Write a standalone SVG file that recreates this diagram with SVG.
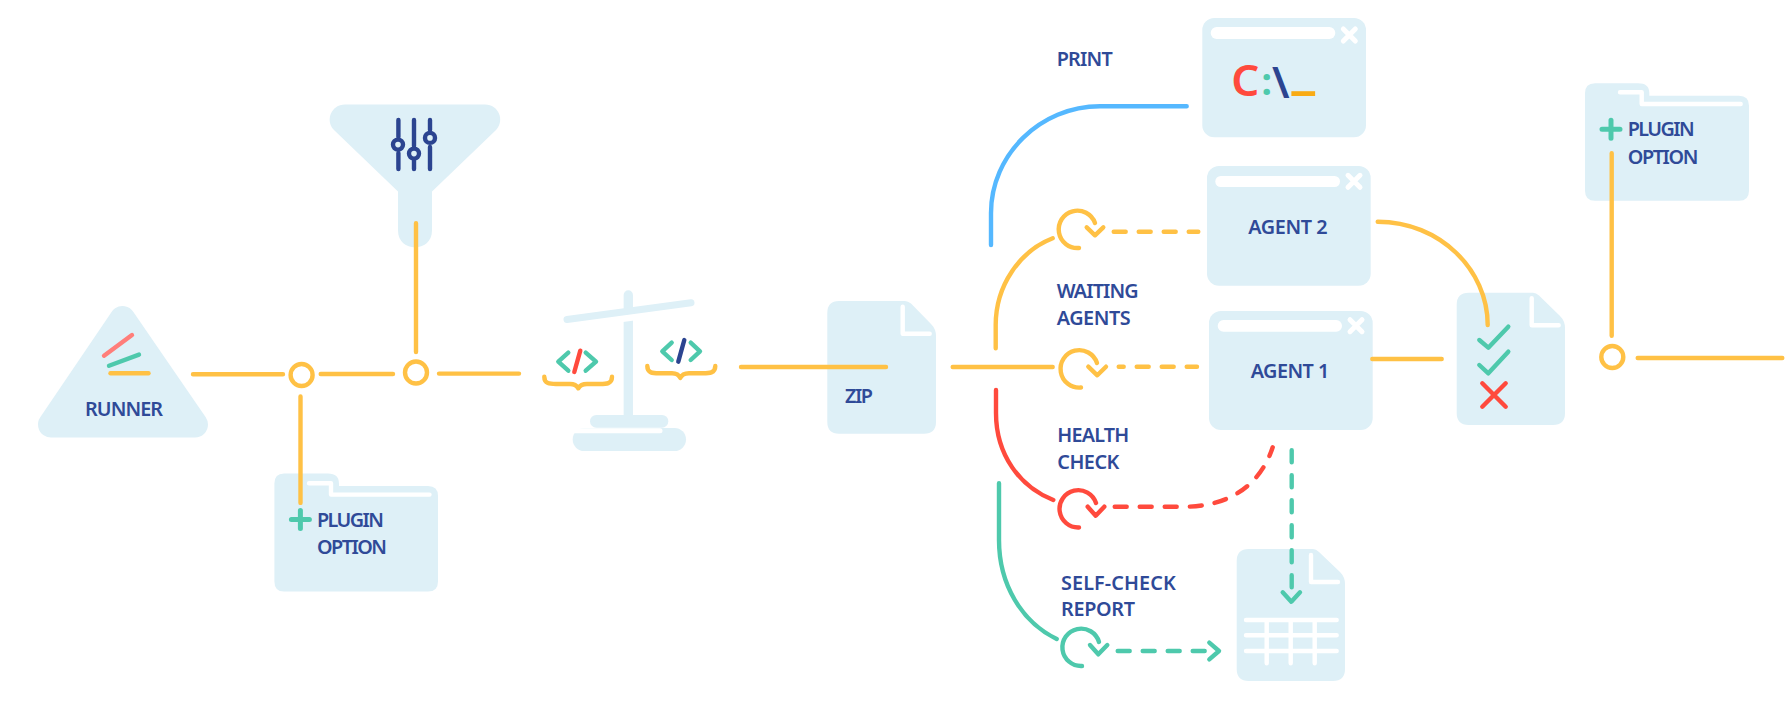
<svg xmlns="http://www.w3.org/2000/svg" width="1790" height="706" viewBox="0 0 1790 706">
<style>
text{font-family:"Noto Sans","Open Sans",sans-serif;font-weight:600;font-size:19.8px;fill:#2F4A98}
.bg{fill:#DEF0F7}
.l{fill:none;stroke-width:4.400;stroke-linecap:round;stroke-linejoin:round}
.y{stroke:#FFC145}.t{stroke:#4EC9AC}.r{stroke:#FF4A3D}.b{stroke:#55B8FF}.n{stroke:#2B4490}.w{stroke:#fff}.lb{stroke:#DEF0F7}
.d{stroke-dasharray:12 13}
.bar{fill:#fff}
</style>
<defs>
<g id="x"><path class="l w" style="stroke-width:5" d="M-6,-6L6,6M6,-6L-6,6"/></g>
<path id="fold" class="l w" d="M0,0V27H27"/>
</defs>
<rect width="1790" height="706" fill="#fff"/>
<g id="runner">
<path class="bg lb" style="stroke-width:26;stroke-linejoin:round" d="M122.5,319L51,424.500H195Z"/>
<path class="l" stroke="#FF7E7A" d="M104,355.700L132,335"/>
<path class="l t" d="M109,365.700L139,354.600"/>
<path class="l y" d="M110.500,373.200H148.500"/>
<text x="85" y="416.300" textLength="78">RUNNER</text>
</g>
<g id="funnel">
<path class="bg" d="M345,104.600H485C499,104.600 505,121 496,130L432,191.400V230.500C432,253 398,253 398,230.500V191.400L334,130C325,121 331,104.600 345,104.600Z"/>
<path class="l n" d="M398.400,120V137M398.400,153V169M414,120V146M414,161V169M430,120V130M430,147V169"/>
<circle class="l n" style="fill:#DEF0F7" cx="398" cy="144.600" r="5"/>
<circle class="l n" style="fill:#DEF0F7" cx="414" cy="153.600" r="5"/>
<circle class="l n" style="fill:#DEF0F7" cx="430" cy="137.900" r="5"/>
</g>
<g id="plugin-option-1">
<path class="bg" d="M284,473.600H328Q339,473.600 339,484V486H428Q438,486 438,496V581.400Q438,591.400 428,591.400H284Q274.400,591.400 274.400,581.400V483.600Q274.400,473.600 284,473.600Z"/>
<path class="l w" d="M309,483.200H331V494.600H429.500"/>
<path class="l t" style="stroke-width:5" d="M300.400,510.600V528.600M291.400,519.600H309.400"/>
<text x="317" y="526.800" textLength="67">PLUGIN</text>
<text x="317" y="554" textLength="70">OPTION</text>
</g>
<g id="scale">
<path class="l lb" style="stroke-width:9.300" d="M628.300,295V418"/>
<path class="l w" style="stroke-width:7" d="M566,326L694,309"/>
<path class="l lb" style="stroke-width:7" d="M567,319.500L691,302.700"/>
<rect class="bg" x="590" y="415" width="78.300" height="12.700" rx="6.300"/>
<rect class="bg" x="572.700" y="428" width="113.300" height="23" rx="11.500"/>
<path class="l w" style="stroke-width:5" d="M560,430.700H660"/>
<path class="l t" d="M568.300,352.700L558.300,361.700L568.300,370.700M585.700,352.700L596,361.700L585.700,370.700"/>
<path class="l r" d="M580.300,350.700L574.300,372"/>
<path class="l y" d="M544.300,376.700C544.300,384 550,384 556,384H570C575,384 577,386 578.300,388.300C579.600,386 582,384 587,384H600C606,384 612,384 612,376.700"/>
<path class="l t" d="M671.700,342.700L662.300,351.300L671.700,360M690.700,342.700L700,351.300L690.700,360"/>
<path class="l n" d="M684.300,340L678.300,361.700"/>
<path class="l y" d="M647.300,366C647.300,373.300 653,373.300 659,373.300H672C677,373.300 679,375 680.300,378C681.600,375 684,373.300 689,373.300H703C709,373.300 715.300,373.300 715.300,366"/>
</g>
<g id="zip">
<path class="bg" d="M839,301H905Q908,301 911,303.500L931,324Q936,329 936,336V421.700Q936,433.700 924,433.700H839Q827.300,433.700 827.300,421.700V313Q827.300,301 839,301Z"/>
<use href="#fold" x="902.700" y="306.700"/>
<text x="845" y="402.700" textLength="28">ZIP</text>
</g>
<g id="print-window">
<rect class="bg" x="1202.300" y="18" width="163.700" height="119.300" rx="12"/>
<rect class="bar" x="1210.700" y="27" width="124.600" height="12" rx="6"/>
<use href="#x" x="1349.300" y="35"/>
<text y="95.500" style="font-size:44px;font-weight:600"><tspan x="1231.300" style="fill:#FF4A3D">C</tspan><tspan x="1261.500" y="95" style="fill:#4EC9AC;font-size:37px;font-weight:700">:</tspan><tspan x="1272" y="98" style="fill:#2B4490;font-size:44px;font-weight:600">\</tspan><tspan x="1291.500" y="87" style="fill:#F9AB14;font-size:52px;font-weight:800">_</tspan></text>
</g>
<g id="agent-2">
<rect class="bg" x="1207" y="166" width="163.700" height="119.700" rx="12"/>
<rect class="bar" x="1215.300" y="176" width="124.700" height="11" rx="5.500"/>
<use href="#x" x="1354" y="181.300"/>
<text x="1248.300" y="233.800" textLength="79.400">AGENT 2</text>
</g>
<g id="agent-1">
<rect class="bg" x="1209" y="311" width="163.700" height="119" rx="12"/>
<rect class="bar" x="1217.700" y="320" width="124.300" height="11.700" rx="5.800"/>
<use href="#x" x="1356" y="325.700"/>
<text x="1250.700" y="378.400" textLength="78.600">AGENT 1</text>
</g>
<g id="report">
<path class="bg" d="M1248.700,549H1313Q1316,549 1319,552L1340,572Q1345,577 1345,584V669Q1345,681 1333,681H1248.700Q1236.700,681 1236.700,669V561Q1236.700,549 1248.700,549Z"/>
<use href="#fold" x="1311" y="555"/>
<path class="l w" d="M1246,620H1336.700M1246,635.300H1336.700M1246,651H1336.700M1266.700,620V663.300M1290.700,620V663.300M1314.700,620V663.300"/>
</g>
<g id="checklist">
<path class="bg" d="M1468.700,292.700H1533Q1536,292.700 1539,295.500L1560,316Q1565,321 1565,328V413Q1565,425 1553,425H1468.700Q1456.700,425 1456.700,413V304.700Q1456.700,292.700 1468.700,292.700Z"/>
<use href="#fold" x="1531.700" y="298.300"/>
<path class="l t" d="M1479.300,340L1488.300,347.700L1508.300,326.700M1479.300,365L1488.300,373.300L1508.300,351.700"/>
<path class="l r" d="M1482.300,383.300L1505.700,406.700M1505.700,383.300L1482.300,406.700"/>
</g>
<g id="plugin-option-2">
<path class="bg" d="M1595,83.300H1638Q1649.300,83.300 1649.300,93V95.700H1739Q1749,95.700 1749,105.700V190.700Q1749,200.700 1739,200.700H1595Q1585,200.700 1585,190.700V93.300Q1585,83.300 1595,83.300Z"/>
<path class="l w" d="M1620,92.300H1641.700V104H1740.700"/>
<path class="l t" style="stroke-width:5" d="M1611,120.300V138.300M1602,129.300H1620"/>
<text x="1627.700" y="136.400" textLength="67">PLUGIN</text>
<text x="1627.700" y="163.700" textLength="70.700">OPTION</text>
</g>
<g id="labels">
<text x="1056.700" y="65.700" textLength="56">PRINT</text>
<text x="1056.700" y="298" textLength="82">WAITING</text>
<text x="1056.700" y="325.300" textLength="74">AGENTS</text>
<text x="1057.300" y="441.900" textLength="72">HEALTH</text>
<text x="1057.300" y="469.200" textLength="62">CHECK</text>
<text x="1061" y="589.500" textLength="114.700">SELF-CHECK</text>
<text x="1061" y="616.300" textLength="74">REPORT</text>
</g>
<g id="connectors">
<path class="l y" d="M193,374.300H283M320.700,374H393M439,373.600H519M416,223.200V352M300.500,396.400V502.900"/>
<circle class="l y" cx="301.600" cy="375" r="11"/>
<circle class="l y" cx="416" cy="372.500" r="11"/>
<path class="l y" d="M741,367H886M952.700,367H1052.700"/>
<path class="l b" d="M1186.700,106.300H1100C1040,106.300 991,155 991,213V245"/>
<path class="l y" d="M1052.700,238.300C1020,251 995.700,285 995.700,325V348.300"/>
<path class="l r" d="M996,390V413C996,455 1020,487 1053.300,500"/>
<path class="l t" d="M999,483.300V540C999,585 1022,622 1056.700,639"/>
<path class="l y" d="M1079,248A18.700,18.700 0 1 1 1095,223M1086.700,227.300L1095,235.300L1103.300,227.300"/>
<path class="l y d" d="M1113.700,231.700H1198.300"/>
<path class="l y" d="M1081,387.500A18.700,18.700 0 1 1 1097,363M1088.300,366.700L1097.300,375.300L1106,366.700"/>
<path class="l y d" style="stroke-dashoffset:7" d="M1118.700,366.700H1197"/>
<path class="l r" d="M1079,527.500A18.700,18.700 0 1 1 1096,503M1087.700,506.700L1095.700,515.700L1104.300,506.700"/>
<path class="l r d" d="M1114.700,506.700H1186C1235,506 1262,480 1272.700,447.300"/>
<path class="l t" d="M1082,666A18.700,18.700 0 1 1 1099,642M1090,645L1098.300,654.300L1107.300,645"/>
<path class="l t d" d="M1117.700,651H1206.700"/>
<path class="l t" d="M1209.300,642.700L1219,651L1209.300,659.300"/>
<path class="l t d" d="M1291.700,450.300V590"/>
<path class="l t" d="M1282.700,592.300L1291.300,601.700L1300,592.300"/>
<path class="l y" d="M1377.700,221.700C1440,221.700 1487.700,270 1487.700,325M1372.300,359H1441.700M1611.700,153.300V335.700M1637.700,358H1782.300"/>
<circle class="l y" cx="1612.300" cy="357" r="11"/>
</g>
</svg>
